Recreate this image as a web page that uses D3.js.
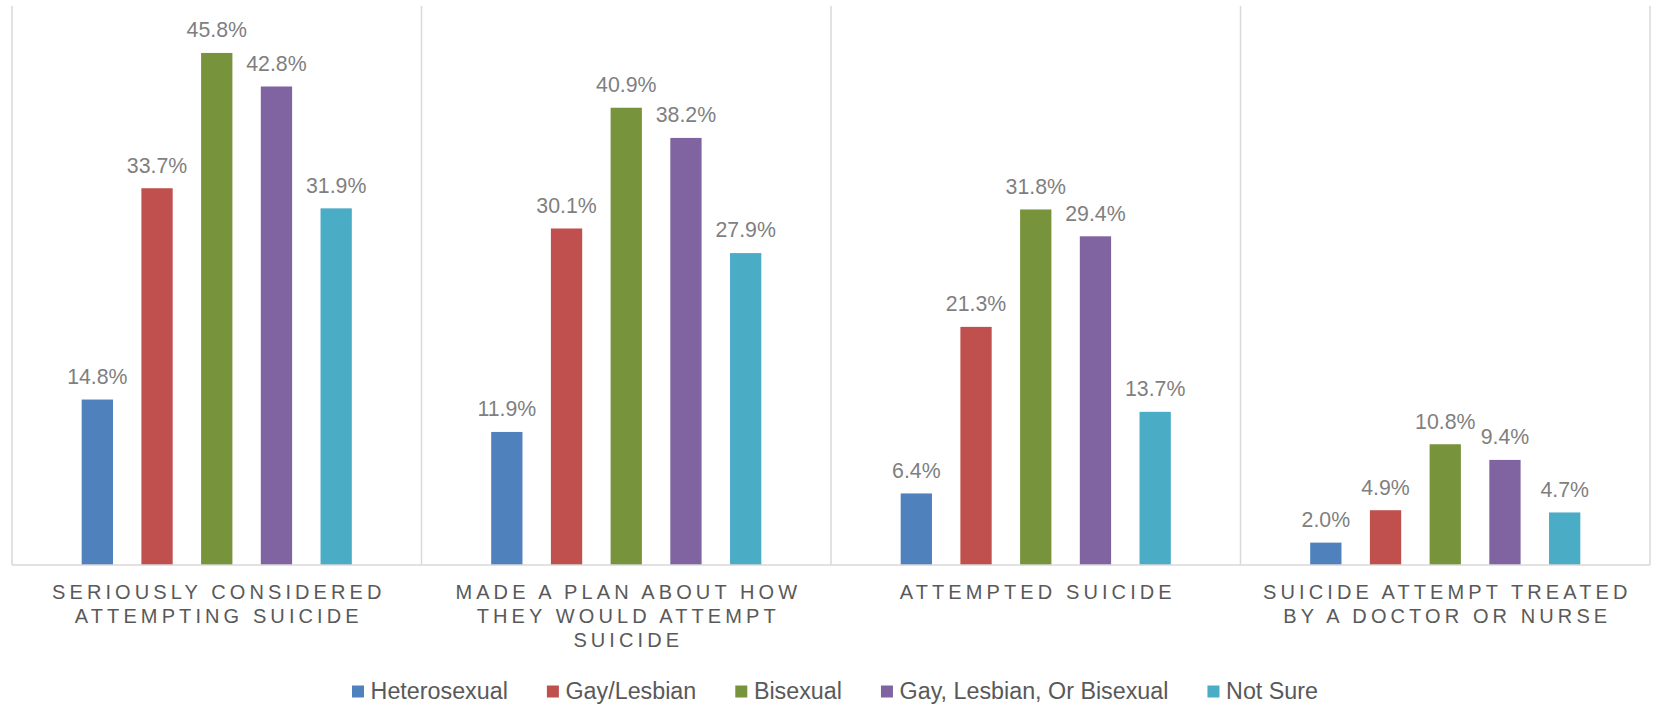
<!DOCTYPE html>
<html>
<head>
<meta charset="utf-8">
<script src="https://cdn.jsdelivr.net/npm/d3@7"></script>
<style>
  html, body { margin: 0; padding: 0; background: #ffffff; }
  svg { display: block; font-family: "Liberation Sans", Arial, sans-serif; }
</style>
</head>
<body>
<svg id="chart" width="1655" height="704"></svg>
<script>
// Categories (each label split into its wrapped lines)
const categories = [
  "SERIOUSLY CONSIDERED|ATTEMPTING SUICIDE",
  "MADE A PLAN ABOUT HOW|THEY WOULD ATTEMPT|SUICIDE",
  "ATTEMPTED SUICIDE",
  "SUICIDE ATTEMPT TREATED|BY A DOCTOR OR NURSE"
];

// Series names and colours
const seriesNames = ["Heterosexual", "Gay/Lesbian", "Bisexual", "Gay, Lesbian, Or Bisexual", "Not Sure"];
const seriesColors = ["#4F81BD", "#C0504D", "#77933C", "#8064A2", "#4BACC6"];

// Percentages per series, one value per category
const heterosexual = [14.8, 11.9, 6.4, 2.0];
const gayLesbian   = [33.7, 30.1, 21.3, 4.9];
const bisexual     = [45.8, 40.9, 31.8, 10.8];
const glb          = [42.8, 38.2, 29.4, 9.4];
const notSure      = [31.9, 27.9, 13.7, 4.7];

const seriesValues = [heterosexual, gayLesbian, bisexual, glb, notSure];

// Value axis range
const yDomain = [0, 50];

const svg = d3.select("#chart");
const plot = { left: 12, right: 1650, top: 6, bottom: 565 };

const x0 = d3.scaleBand().domain(categories).range([plot.left, plot.right]).padding(0);
const x1 = d3.scaleBand().domain(seriesNames).range([0, x0.bandwidth()])
  .paddingInner(0.476).paddingOuter(1.167);
const y = d3.scaleLinear().domain(yDomain).range([plot.bottom, plot.top]);

const gridColor = "#d9d9d9";

// Category separators
const bounds = categories.map(c => x0(c)).concat([plot.right]);
svg.append("g").selectAll("line").data(bounds).join("line")
  .attr("x1", d => d).attr("x2", d => d)
  .attr("y1", plot.top).attr("y2", plot.bottom)
  .attr("stroke", gridColor).attr("stroke-width", 1.5);

// Bars
const rows = [];
categories.forEach((c, ci) => {
  seriesNames.forEach((s, si) => {
    rows.push({ cat: c, series: s, value: seriesValues[si][ci], color: seriesColors[si] });
  });
});

const barG = svg.append("g");
barG.selectAll("rect").data(rows).join("rect")
  .attr("x", d => x0(d.cat) + x1(d.series))
  .attr("y", d => y(d.value))
  .attr("width", x1.bandwidth())
  .attr("height", d => y(0) - y(d.value))
  .attr("fill", d => d.color);

// Value labels
barG.selectAll("text").data(rows).join("text")
  .attr("x", d => x0(d.cat) + x1(d.series) + x1.bandwidth() / 2)
  .attr("y", d => y(d.value) - 15.7)
  .attr("text-anchor", "middle")
  .attr("font-size", "21.3px")
  .attr("fill", "#7f7f7f")
  .text(d => d.value.toFixed(1) + "%");

// Baseline
svg.append("line")
  .attr("x1", plot.left).attr("x2", plot.right)
  .attr("y1", plot.bottom).attr("y2", plot.bottom)
  .attr("stroke", gridColor).attr("stroke-width", 1.5);

// Category labels
const ls = 4.1;
const catG = svg.append("g");
categories.forEach(c => {
  const lines = c.split("|");
  const cx = x0(c) + x0.bandwidth() / 2;
  lines.forEach((ln, i) => {
    catG.append("text")
      .attr("x", cx + ls / 2)
      .attr("y", 598.5 + i * 24)
      .attr("text-anchor", "middle")
      .attr("font-size", "20px")
      .attr("letter-spacing", ls + "px")
      .attr("fill", "#595959")
      .text(ln);
  });
});

// Legend
const legG = svg.append("g");
const items = seriesNames.map((s, i) => {
  const g = legG.append("g");
  g.append("rect").attr("x", 0).attr("y", 685.5).attr("width", 12).attr("height", 12)
    .attr("fill", seriesColors[i]);
  const t = g.append("text").attr("x", 18.6).attr("y", 699)
    .attr("font-size", "23.3px").attr("fill", "#595959").text(s);
  return { g, w: 18.6 + t.node().getComputedTextLength() };
});
const gap = 39;
const total = d3.sum(items, d => d.w) + gap * (items.length - 1);
let lx = 835 - total / 2;
items.forEach(it => {
  it.g.attr("transform", `translate(${lx},0)`);
  lx += it.w + gap;
});
</script>
</body>
</html>
